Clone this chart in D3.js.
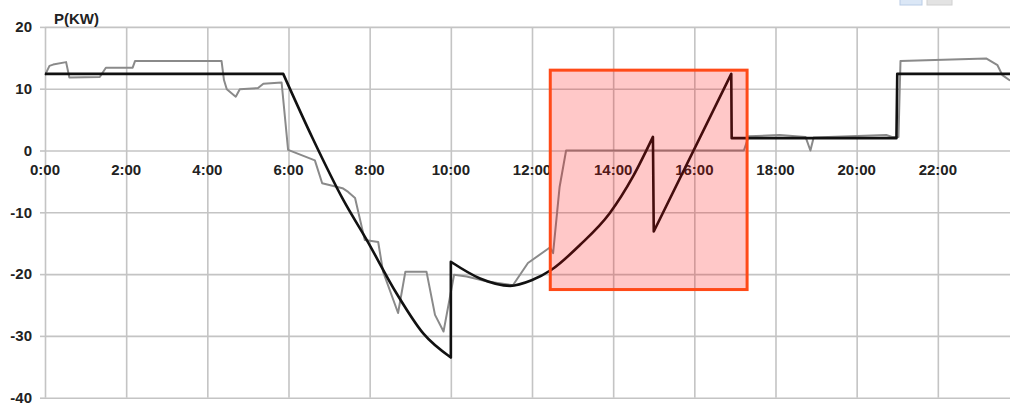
<!DOCTYPE html>
<html>
<head>
<meta charset="utf-8">
<script src="https://cdn.jsdelivr.net/npm/d3@7"></script>
<style>
  html, body { margin: 0; padding: 0; background: #fff; }
  svg { display: block; font-family: "Liberation Sans", Arial, sans-serif; }
</style>
</head>
<body>
<svg id="chart" width="1010" height="403"></svg>
<script>
// Tick labels
const xTickHours = [0, 2, 4, 6, 8, 10, 12, 14, 16, 18, 20, 22];
const xTickLabels = ["0:00", "2:00", "4:00", "6:00", "8:00", "10:00", "12:00", "14:00", "16:00", "18:00", "20:00", "22:00"];
const yTicks = [20, 10, 0, -10, -20, -30, -40];

// Scheduled power (black), hour of day -> kW; a repeated hour starts a new smooth piece
const planHours = [0, 5.87,
                   5.87, 6.6, 7.35, 7.93, 8.66, 9.32, 10.0,
                   10.0, 10.72, 11.46, 11.99, 12.48, 13.18, 13.91, 14.49, 14.98,
                   15.0, 16.91,
                   16.92, 20.98,
                   21.0, 24];
const planPower = [12.4, 12.4,
                   12.4, 1.9, -8.0, -14.5, -23.1, -29.6, -33.5,
                   -18.0, -20.7, -21.9, -21.0, -19.3, -15.3, -10.2, -4.2, 2.2,
                   -13.1, 12.4,
                   2.0, 2.0,
                   12.4, 12.4];

// Measured power (grey), hour of day -> kW
const measHours = [0, 0.11, 0.2, 0.52, 0.6, 1.35, 1.5, 2.16, 2.22, 4.35, 4.41, 4.48, 4.7, 4.8,
                   5.25, 5.38, 5.83, 5.99, 6.65, 6.83, 7.33, 7.47, 7.64, 7.88, 8.21, 8.33,
                   8.7, 8.88, 9.4, 9.61, 9.82, 10.08, 10.39, 10.9, 11.53, 11.9, 12.44,
                   12.52, 12.68, 12.84, 17.22, 17.34, 18.1, 18.74, 18.86, 18.94, 20.73,
                   20.87, 21.03, 21.08, 23.19, 23.47, 23.59, 23.76, 24];
const measPower = [12.2, 13.7, 13.9, 14.3, 11.8, 11.9, 13.4, 13.4, 14.5, 14.5, 11.4, 9.9, 8.7, 9.9,
                   10.1, 10.8, 11.0, 0.1, -1.6, -5.3, -6.1, -6.7, -7.7, -14.5, -14.8, -19.6,
                   -26.3, -19.6, -19.6, -26.6, -29.3, -20.1, -20.4, -21.2, -21.8, -18.2, -15.7,
                   -16.6, -5.9, 0.0, 0.0, 2.3, 2.5, 2.2, 0.0, 2.1, 2.5,
                   2.2, 2.2, 14.5, 14.9, 13.8, 12.2, 11.4, 11.2];

// Highlighted period
const highlightHours = [12.45, 17.3];
const highlightPower = [13.0, -22.5];

const svg = d3.select("#chart");

const x = d3.scaleLinear().domain([0, 24]).range([45, 1019]);
const y = d3.scaleLinear().domain([-40, 20]).range([397.7, 26.9]);

// Horizontal grid with short left ticks
svg.append("g")
  .attr("transform", `translate(${x(0)},0)`)
  .call(d3.axisLeft(y).tickValues(yTicks).tickSize(5).tickFormat(""))
  .call(g => g.select(".domain").remove())
  .call(g => g.selectAll(".tick line").clone()
      .attr("x2", 1010).attr("x1", 0))
  .call(g => g.selectAll(".tick line")
      .attr("stroke", "#c4c4c4").attr("stroke-width", 1.6));

// Vertical grid
svg.append("g")
  .attr("transform", `translate(0,${y(-40)})`)
  .call(d3.axisBottom(x).tickValues(xTickHours).tickSize(y(20) - y(-40)).tickFormat(""))
  .call(g => g.select(".domain").remove())
  .call(g => g.selectAll(".tick line")
      .attr("stroke", "#c4c4c4").attr("stroke-width", 1.6));

// Y labels
svg.append("g")
  .selectAll("text")
  .data(yTicks)
  .join("text")
  .attr("x", 32)
  .attr("y", d => y(d))
  .attr("dy", "0.35em")
  .attr("text-anchor", "end")
  .attr("font-size", 15)
  .attr("font-weight", "bold")
  .attr("fill", "#222")
  .text(d => d);

// X labels along the zero line
svg.append("g")
  .selectAll("text")
  .data(xTickHours)
  .join("text")
  .attr("x", d => x(d))
  .attr("y", y(0) + 24.5)
  .attr("text-anchor", "middle")
  .attr("font-size", 15)
  .attr("font-weight", "bold")
  .attr("fill", "#222")
  .text((d, i) => xTickLabels[i]);

// Unit label
svg.append("text")
  .attr("x", 54)
  .attr("y", 24)
  .attr("font-size", 15)
  .attr("font-weight", "bold")
  .attr("fill", "#222")
  .text("P(KW)");

// Clipped legend swatches at the top edge
svg.append("rect").attr("x", 900).attr("y", -16).attr("width", 22).attr("height", 21)
  .attr("fill", "#dbe7f6").attr("stroke", "#b9cce6").attr("stroke-width", 1);
svg.append("rect").attr("x", 927).attr("y", -16).attr("width", 25).attr("height", 21)
  .attr("fill", "#e3e3e3").attr("stroke", "#d0d0d0").attr("stroke-width", 1);

// Measured series
const measured = measHours.map((h, i) => [h, measPower[i]]);
svg.append("path")
  .datum(measured)
  .attr("fill", "none")
  .attr("stroke", "#8a8a8a")
  .attr("stroke-width", 2)
  .attr("stroke-linejoin", "round")
  .attr("d", d3.line().x(d => x(d[0])).y(d => y(d[1])));

// Scheduled series: smooth pieces joined by vertical steps and corners
const plan = planHours.map((h, i) => [h, planPower[i]]);
const pieces = [];
plan.forEach((p, i) => {
  if (i === 0 || p[0] - plan[i - 1][0] < 0.02) pieces.push([p]);
  else pieces[pieces.length - 1].push(p);
});
const smooth = d3.line().x(d => x(d[0])).y(d => y(d[1])).curve(d3.curveMonotoneX);
const planPath = pieces.map((pc, i) => {
  const s = pc.length > 1 ? smooth(pc) : `M${x(pc[0][0])},${y(pc[0][1])}`;
  return i === 0 ? s : "L" + s.slice(1);
}).join("");
svg.append("path")
  .attr("fill", "none")
  .attr("stroke", "#111")
  .attr("stroke-width", 2.6)
  .attr("stroke-linejoin", "round")
  .attr("d", planPath);

// Highlight box over the charging period
svg.append("rect")
  .attr("x", x(highlightHours[0]))
  .attr("y", y(highlightPower[0]))
  .attr("width", x(highlightHours[1]) - x(highlightHours[0]))
  .attr("height", y(highlightPower[1]) - y(highlightPower[0]))
  .attr("fill", "rgba(255,0,0,0.215)")
  .attr("stroke", "#ff4a18")
  .attr("stroke-width", 3);
</script>
</body>
</html>
